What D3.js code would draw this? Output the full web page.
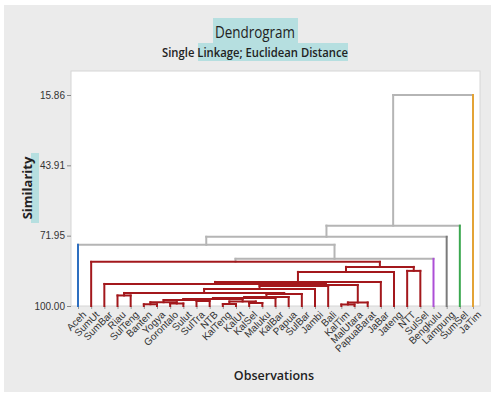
<!DOCTYPE html>
<html>
<head>
<meta charset="utf-8">
<script src="https://cdn.jsdelivr.net/npm/d3@7"></script>
<style>
  body { margin: 0; background: #fff; }
  svg { display: block; font-family: "Liberation Sans Narrow", "Roboto", sans-serif; }
</style>
</head>
<body>
<svg id="chart" width="500" height="398"></svg>
<script>
// leaves in dendrogram order
const leaves = ["Aceh", "SumUt", "SumBar", "Riau", "SulTeng", "Banten", "Yogya", "Gorontalo",
  "Sulut", "SulTra", "NTB", "KalTeng", "KalUt", "KalSel", "Maluku", "KalBar", "Papua", "SulBar",
  "Jambi", "Bali", "KalTim", "MalUtara", "PapuaBarat", "JaBar", "Jateng", "NTT", "SulSel",
  "Bengkulu", "Lampung", "SumSel", "JaTim"];

// final cluster of each leaf
const leafGroup = [0, 1, 1, 1, 1, 1, 1, 1, 1, 1, 1, 1, 1, 1, 1, 1, 1, 1, 1, 1, 1, 1, 1, 1, 1, 1, 1, 2, 3, 4, 5];
const groupColors = ["#2e6fc0", "#a3181c", "#ad4fd6", "#7b7b7b", "#3ba84f", "#e3a336"];
const linkGrey = "#b5b5b5";

// linkage: [left, right, similarity]; ids < 31 are leaves, 31 + k is the k-th merge
const merges = [
  [20, 21, 99.40], [5, 6, 99.30], [11, 12, 99.20], [7, 8, 99.00], [13, 14, 98.80],
  [31, 22, 98.60], [32, 34, 98.50], [33, 35, 98.20], [9, 10, 98.00], [37, 39, 97.60],
  [40, 38, 97.20], [41, 15, 96.80], [42, 16, 96.40], [3, 4, 95.80], [43, 17, 95.20],
  [44, 45, 94.80], [46, 18, 93.20], [47, 19, 92.00], [48, 36, 91.60], [2, 49, 91.20],
  [50, 23, 90.40], [25, 26, 86.00], [51, 24, 86.40], [53, 52, 84.40], [1, 54, 82.40],
  [55, 27, 81.20], [0, 56, 75.60], [57, 28, 72.40], [58, 29, 67.95], [59, 30, 15.86]
];

const yTicks = [15.86, 43.91, 71.95, 100.00];
const cutSimilarity = 82;

const svg = d3.select("#chart");

// panel background
svg.append("rect").attr("x", 4).attr("y", 5).attr("width", 487).attr("height", 387)
  .attr("fill", "#ebebeb");

// plot area
const plot = { left: 71, right: 480, top: 71, bottom: 306 };
svg.append("rect")
  .attr("x", plot.left).attr("y", plot.top)
  .attr("width", plot.right - plot.left).attr("height", plot.bottom - plot.top)
  .attr("fill", "#fff").attr("stroke", "#d6d6d6");

const x = d3.scalePoint().domain(d3.range(leaves.length)).range([78, 473]);
const y = d3.scaleLinear().domain([15.86, 100]).range([95, plot.bottom]);

// titles
svg.append("rect").attr("x", 213).attr("y", 18).attr("width", 85).attr("height", 25).attr("fill", "#b6dfe0");
svg.append("rect").attr("x", 198).attr("y", 43).attr("width", 150).attr("height", 18).attr("fill", "#b6dfe0");
svg.append("text").attr("x", 255).attr("y", 38).attr("text-anchor", "middle")
  .attr("font-size", 16.5).attr("fill", "#222").attr("font-family", "Open Sans, sans-serif")
  .attr("textLength", 80).attr("lengthAdjust", "spacingAndGlyphs")
  .text("Dendrogram");
svg.append("text").attr("x", 255).attr("y", 57).attr("text-anchor", "middle")
  .attr("font-size", 13).attr("font-weight", 600).attr("fill", "#222")
  .attr("textLength", 186).attr("lengthAdjust", "spacingAndGlyphs")
  .attr("font-family", "Open Sans, sans-serif")
  .text("Single Linkage; Euclidean Distance");

// y axis
const yAxis = svg.append("g")
  .attr("transform", `translate(${plot.left},0)`)
  .call(d3.axisLeft(y).tickValues(yTicks).tickFormat(d3.format(".2f")).tickSize(4));
yAxis.select(".domain").remove();
yAxis.selectAll("line").attr("stroke", "#888");
yAxis.selectAll("text").attr("font-size", 10).attr("fill", "#333").attr("x", -6);

svg.append("rect").attr("x", 31).attr("y", 153).attr("width", 8).attr("height", 70).attr("fill", "#b6dfe0");
svg.append("text")
  .attr("transform", "translate(32,188) rotate(-90)")
  .attr("text-anchor", "middle").attr("font-size", 13).attr("font-weight", "bold")
  .attr("fill", "#222").attr("font-family", "Open Sans, sans-serif")
  .text("Similarity");

// x axis
const xAxis = svg.append("g")
  .attr("transform", `translate(0,${plot.bottom})`)
  .call(d3.axisBottom(x).tickSize(3).tickFormat(i => leaves[i]));
xAxis.select(".domain").remove();
xAxis.selectAll("line").attr("stroke", "#999");
xAxis.selectAll("text")
  .attr("font-size", 10).attr("fill", "#333")
  .attr("text-anchor", "end")
  .attr("transform", "translate(2,3) rotate(-45)")
  .attr("dy", "0.6em").attr("y", 3);

svg.append("text").attr("x", 274).attr("y", 380).attr("text-anchor", "middle")
  .attr("font-size", 12.5).attr("font-weight", 600).attr("fill", "#222")
  .attr("font-family", "Open Sans, sans-serif")
  .text("Observations");

// build nodes from the linkage
const nodes = leaves.map((name, i) => ({ x: x(i), h: 100, group: leafGroup[i], leaf: true }));
merges.forEach(([a, b, s]) => {
  nodes.push({ x: (nodes[a].x + nodes[b].x) / 2, h: s, group: nodes[a].group, leaf: false, kids: [a, b] });
});

const segs = [];
nodes.filter(n => !n.leaf).forEach(n => {
  const inside = n.h >= cutSimilarity;
  const [a, b] = n.kids.map(k => nodes[k]);
  segs.push({ x1: a.x, y1: y(n.h), x2: b.x, y2: y(n.h), c: inside ? groupColors[n.group] : linkGrey });
  [a, b].forEach(k => {
    const c = k.leaf ? groupColors[k.group] : (inside ? groupColors[k.group] : linkGrey);
    segs.push({ x1: k.x, y1: y(k.h), x2: k.x, y2: y(n.h), c: c });
  });
});

// grey links first so coloured ones sit on top
segs.sort((p, q) => (p.c === linkGrey ? 0 : 1) - (q.c === linkGrey ? 0 : 1));
svg.append("g").selectAll("line").data(segs).join("line")
  .attr("x1", d => d.x1).attr("y1", d => d.y1)
  .attr("x2", d => d.x2).attr("y2", d => d.y2)
  .attr("stroke", d => d.c).attr("stroke-width", 2)
  .attr("stroke-linecap", "square");
</script>
</body>
</html>
